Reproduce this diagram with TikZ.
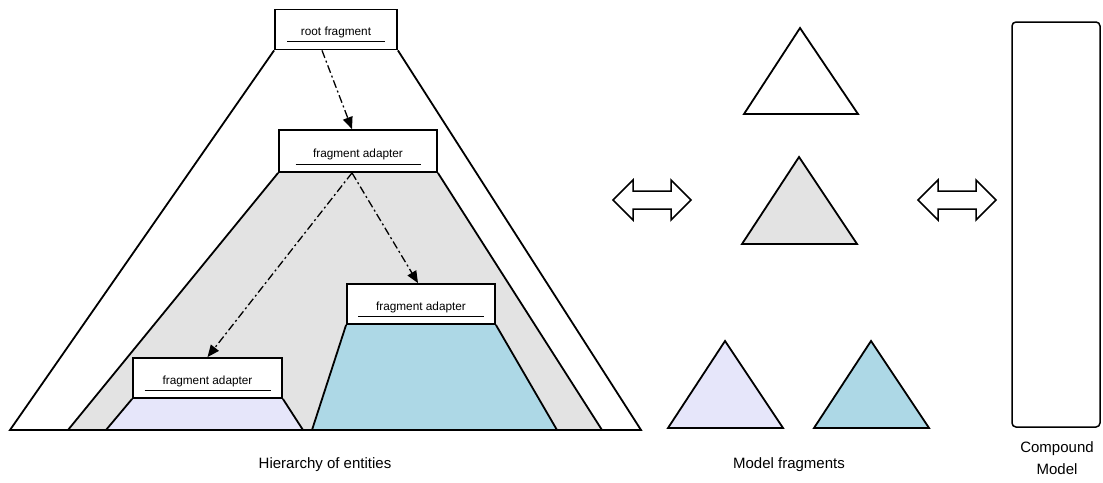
\documentclass[tikz,border=0pt]{standalone}
\usepackage{fontspec}
\setmainfont{Liberation Sans}
\usetikzlibrary{positioning}
\usetikzlibrary{calc}
\usetikzlibrary{arrows.meta,backgrounds}

\definecolor{hiergray}{RGB}{227,227,227}
\definecolor{fraglav}{RGB}{230,230,250}
\definecolor{fragblue}{RGB}{173,216,230}

\tikzset{
  fragbox/.style={draw=black, fill=white, line width=1.8pt, minimum height=40pt,
    inner sep=0pt, font=\fontsize{11.8}{13}\selectfont, text height=12pt, text depth=0pt},
  uline/.style={line width=0.8pt},
  outline/.style={draw=black, line width=1.8pt, line join=miter},
  dashdotarrow/.style={line width=1.3pt, dash pattern=on 8pt off 3pt on 2pt off 3pt,
    -{Triangle[length=12pt,width=10pt]}},
  dblarrow/.style={draw=black, fill=white, line width=1.5pt, line join=miter},
  caption/.style={font=\fontsize{15}{22}\selectfont, align=center}
}

\begin{document}
\begin{tikzpicture}[x=1pt, y=-1pt]
\useasboundingbox (0,0) rectangle (1103,482);

% fragment adapter boxes
\node[fragbox, minimum width=122pt] (root) at (336,29.5) {root fragment};
\node[fragbox, minimum width=158pt, minimum height=42pt] (fa1) at (358,151) {fragment adapter};
\node[fragbox, minimum width=149pt] (fa2) at (207.5,378) {fragment adapter};
\node[fragbox, minimum width=148pt] (fa3) at (421,304) {fragment adapter};

\foreach \n/\w in {root/49,fa1/62.5,fa2/63,fa3/63}
  \draw[uline] ([xshift=-\w,yshift=9]\n.south) -- ([xshift=\w,yshift=9]\n.south);

% bottom corners of the hierarchy
\coordinate (outerL) at (10,430);
\coordinate (outerR) at (641,430);
\coordinate (grayL) at (68,430);
\coordinate (grayR) at (602,430);
\coordinate (lavL) at (106,430);
\coordinate (lavR) at (303,430);
\coordinate (blueL) at (312,430);
\coordinate (blueR) at (557,430);

\begin{pgfonlayer}{background}
\draw[outline, fill=white] (root.south west) -- (outerL) -- (outerR) -- (root.south east);
\draw[outline, fill=hiergray] (fa1.south west) -- (grayL) -- (grayR) -- (fa1.south east);
\draw[outline, fill=fraglav] (fa2.south west) -- (lavL) -- (lavR) -- (fa2.south east);
\draw[outline, fill=fragblue] (fa3.south west) -- (blueL) -- (blueR) -- (fa3.south east);
\draw[outline] (outerL) -- (outerR);
\end{pgfonlayer}

% references between fragments
\draw[dashdotarrow] ([xshift=-14pt]root.south) -- ([xshift=-6pt]fa1.north);
\draw[dashdotarrow] ([xshift=-6pt]fa1.south) -- (fa2.north);
\draw[dashdotarrow] ([xshift=-6pt]fa1.south) -- ([xshift=-3pt]fa3.north);

% double arrows
\foreach \x in {613,918}
  \draw[dblarrow] (\x,200) -- ++(20,-20) -- ++(0,11) -- ++(38,0) -- ++(0,-11)
    -- ++(20,20) -- ++(-20,20) -- ++(0,-11) -- ++(-38,0) -- ++(0,11) -- cycle;

% model fragments
\draw[outline, fill=white] (800,28) -- (858,114) -- (744,114) -- cycle;
\draw[outline, fill=hiergray] (799,157) -- (857,244) -- (742,244) -- cycle;
\draw[outline, fill=fraglav] (725,341) -- (783,428) -- (668,428) -- cycle;
\draw[outline, fill=fragblue] (871,341) -- (929,428) -- (814,428) -- cycle;

% compound model
\node[draw=black, line width=1.5pt, rounded corners=4pt, minimum width=88pt,
  minimum height=405pt, inner sep=0pt] (compound) at (1056,224.5) {};

% captions
\node[caption] (hiercap) at (325,465) {Hierarchy of entities};
\node[caption] (fragcap) at (789,465) {Model fragments};
\node[caption] (compcap) at (1057,458) {Compound\\Model};

\end{tikzpicture}
\end{document}
